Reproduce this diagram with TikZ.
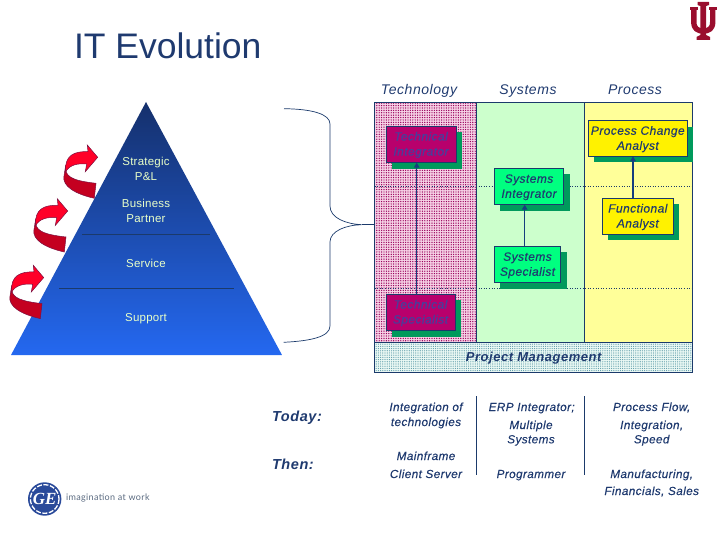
\documentclass[tikz,border=0pt]{standalone}
\usepackage{fontspec}
\setmainfont{Liberation Sans}
\usetikzlibrary{shadows,patterns.meta,arrows.meta}
\newfontfamily\lsfont[LetterSpace=3.5,FakeBold=0.3]{Liberation Sans}
\newfontfamily\lshead[LetterSpace=4]{Liberation Sans}
\newfontfamily\lssmall[LetterSpace=2]{Liberation Sans}
\newfontfamily\lslogo[LetterSpace=4]{Lato}
\newcommand{\tp}{\rule{0pt}{10pt}}
\definecolor{navy}{HTML}{1F3A6F}
\definecolor{linenavy}{HTML}{1B3A6B}
\definecolor{arrownavy}{HTML}{153E7E}
\definecolor{shadowgreen}{HTML}{009A5C}
\definecolor{crim}{HTML}{9A0E2E}
\definecolor{techfill}{HTML}{B8006C}
\definecolor{techtext}{HTML}{46409C}
\definecolor{sysfill}{HTML}{00FF80}
\definecolor{pyrtext}{HTML}{E8FFC8}
\definecolor{ribbondark}{HTML}{C40020}
\definecolor{ribbonred}{HTML}{FF0028}
\definecolor{ribbonedge}{HTML}{7A1040}
\definecolor{pyrtop}{HTML}{15306C}
\definecolor{pyrmid}{HTML}{1F50B4}
\definecolor{pyrbot}{HTML}{2468F0}
\definecolor{techbase}{HTML}{F6D2E6}
\definecolor{techdot}{HTML}{98005A}
\definecolor{sysbase}{HTML}{CCFFCC}
\definecolor{procbase}{HTML}{FFFF99}
\definecolor{pmbase}{HTML}{EAF8F4}
\definecolor{pmdot}{HTML}{5A9AA8}
\definecolor{gefill}{HTML}{2A4A9A}
\definecolor{gegray}{HTML}{5A6A80}
\tikzset{
  every node/.style={inner sep=0pt,outer sep=0pt},
  band/.style={draw=linenavy,line width=0.7pt,minimum height=#1},
  role/.style={draw=linenavy,line width=0.7pt,align=center,text=navy,
    font={\lsfont\itshape\fontsize{12}{15}\selectfont},
    copy shadow={shadow xshift=6pt,shadow yshift=-6pt,fill=shadowgreen,draw=none}},
  techrole/.style={role,fill=techfill,text=techtext},
  sysrole/.style={role,fill=sysfill},
  procrole/.style={role,fill=yellow},
  head/.style={text=navy,font={\lshead\itshape\fontsize{14}{16}\selectfont},text height=11.5pt,text depth=1.5pt},
  note/.style={text=navy,align=center,font={\lsfont\itshape\fontsize{11.7}{15}\selectfont},text height=10pt,text depth=2pt},
  big/.style={text=navy,anchor=west,font={\lshead\itshape\bfseries\fontsize{14.5}{16}\selectfont},text height=11.5pt,text depth=1.5pt},
  pyr/.style={text=pyrtext,align=center,font={\lssmall\fontsize{11.5}{15}\selectfont},text height=10.5pt,text depth=1.5pt},
  climb/.style={arrownavy,line width=1.5pt,-{Triangle[length=5pt,width=5.5pt]}},
  ribbon/.style={fill=ribbondark,draw=ribbonedge,line width=0.5pt},
  ribbontop/.style={fill=ribbonred,draw=ribbonedge,line width=0.5pt},
}
\newcommand{\curlarrow}[2]{%
  \begin{scope}[shift={(#1,#2)}]
    \path[ribbon] (65.7,170) .. controls (67,178) and (76,181) .. (96,183.3)
      -- (94.3,198.3) .. controls (75,194) and (62,186) .. (64,176) -- (65.7,165) -- cycle;
    \path[ribbontop] (65.7,172) .. controls (64,155) and (75,151) .. (88,151.7)
      -- (87.3,145) -- (97.7,157.3) -- (85.3,171.7) -- (86.7,164)
      .. controls (78,163) and (69,165) .. (65.7,172) -- cycle;
  \end{scope}}
\begin{document}
\begin{tikzpicture}[x=1pt,y=-1pt]
\useasboundingbox (0,0) rectangle (720,540);
% title
\node[anchor=base west,text=navy,font=\fontsize{35.5}{40}\selectfont] (title) at (74,59) {IT Evolution};
% pyramid
\shade[top color=pyrtop,middle color=pyrmid,bottom color=pyrbot] (146,102) -- (282,355) -- (11,355) -- cycle;
\coordinate (l1a) at (82,234.3); \coordinate (l1b) at (210,234.3);
\coordinate (l2a) at (59,288.3); \coordinate (l2b) at (234,288.3);
\draw[linenavy,line width=0.5pt] (l1a) -- (l1b);
\draw[linenavy,line width=0.5pt] (l2a) -- (l2b);
\node[pyr] (p1) at (146,161) {Strategic};
\node[pyr] (p2) at (146,176) {P\&L};
\node[pyr] (p3) at (146,203) {Business};
\node[pyr] (p4) at (146,218) {Partner};
\node[pyr] (p5) at (146,263) {Service};
\node[pyr] (p6) at (146,317) {Support};
% curled arrows
\curlarrow{0}{0}
\curlarrow{-30}{53.7}
\curlarrow{-54}{120.3}
% brace
\coordinate (bt) at (284,108.7);
\coordinate (bb) at (283.7,342.3);
\coordinate (tip) at (361.7,224.7);
\draw[linenavy,line width=0.7pt] (bt) .. controls (312,109) and (330,114) .. (330,124)
  -- (330,206) .. controls (330,218) and (346,224) .. (tip)
  .. controls (346,225) and (330,231) .. (330,242)
  -- (330,326) .. controls (330,337) and (310,341) .. (bb);
% columns
\node[band=239.6pt,minimum width=102.2pt,preaction={fill=techbase},pattern={Dots[distance=2.4pt,radius=.7pt]},pattern color=techdot] (colT) at (425.6,222.5) {};
\node[band=239.6pt,minimum width=107.8pt,fill=sysbase] (colS) at (530.6,222.5) {};
\node[band=239.6pt,minimum width=107.5pt,fill=procbase] (colP) at (638.25,222.5) {};
\node[band=30.3pt,minimum width=317.5pt,preaction={fill=pmbase},pattern={Dots[distance=2.2pt,radius=.6pt]},pattern color=pmdot] (pm) at (533.25,357.15) {};
\node[text=navy,font={\lshead\itshape\bfseries\fontsize{13}{15}\selectfont}] (pmt) at (533.7,358.3) {Project Management};
\draw[linenavy,line width=1.2pt] (tip) -- (colT.west |- tip);
\draw[linenavy,line width=0.6pt,dotted] (colT.west |- 0,186.7) -- (colP.east |- 0,186.7);
\draw[linenavy,line width=0.6pt,dotted] (colT.west |- 0,288.7) -- (colP.east |- 0,288.7);
% heads
\node[head] (hT) at (419,90) {Technology};
\node[head] (hS) at (528,90) {Systems};
\node[head] (hP) at (635,90) {Process};
% roles
\node[techrole,minimum width=70pt,minimum height=36.7pt] (ti) at (421,144.3) {\tp Technical\\Integrator};
\node[techrole,minimum width=69pt,minimum height=36.7pt] (ts) at (420.5,312.3) {\tp Technical\\Specialist};
\node[sysrole,minimum width=69.4pt,minimum height=36.4pt] (si) at (529,186.5) {\tp Systems\\Integrator};
\node[sysrole,minimum width=66.4pt,minimum height=36.4pt] (ss) at (527.5,264.5) {\tp Systems\\Specialist};
\node[procrole,minimum width=99pt,minimum height=35.6pt] (pc) at (637.8,138.5) {\tp Process Change\\Analyst};
\node[procrole,minimum width=71pt,minimum height=36pt] (fa) at (637.8,216.3) {\tp Functional\\Analyst};
\draw[climb] ([xshift=-3.8pt]ts.north) -- ([xshift=-4.3pt]ti.south);
\draw[climb] ([xshift=-2.8pt]ss.north) -- ([xshift=-4.3pt]si.south);
\draw[climb] ([xshift=-4.8pt]fa.north) -- ([xshift=-4.8pt]pc.south);
% lower table
\node[big] (today) at (272,416) {Today:};
\node[big] (then) at (272,464) {Then:};
\coordinate (v1a) at (476.3,396); \coordinate (v1b) at (476.3,475);
\coordinate (v2a) at (584.3,396); \coordinate (v2b) at (584.3,475);
\draw[linenavy,line width=0.7pt] (v1a) -- (v1b);
\draw[linenavy,line width=0.7pt] (v2a) -- (v2b);
\node[note] (n1) at (426,407) {Integration of};
\node[note] (n2) at (426,422) {technologies};
\node[note] (n3) at (426,456) {Mainframe};
\node[note] (n4) at (426,474) {Client Server};
\node[note] (n5) at (531.7,407) {ERP Integrator;};
\node[note] (n6) at (531,425) {Multiple};
\node[note] (n7) at (531,439.3) {Systems};
\node[note] (n8) at (531,474) {Programmer};
\node[note] (n9) at (651.7,407) {Process Flow,};
\node[note] (n10) at (651.7,425) {Integration,};
\node[note] (n11) at (651.7,439.3) {Speed};
\node[note] (n12) at (651.7,474) {Manufacturing,};
\node[note] (n13) at (651.7,491) {Financials, Sales};
% GE logo
\node[circle,fill=gefill,minimum size=33.4pt] (ge) at (44.7,499) {};
\draw[white,line width=1.3pt,dash pattern=on 5pt off 1.6pt] (ge.center) circle[radius=14.3];
\node[text=white,font={\fontspec{Liberation Serif}\itshape\bfseries\fontsize{17}{17}\selectfont}] (get) at (44.7,499) {GE};
\node[anchor=west,text=gegray,font={\lslogo\fontsize{9}{10}\selectfont}] (geline) at (66,498.5) {imagination at work};
% IU trident
\draw[crim,line width=5.4pt,line join=round] (693.8,9) -- (693.8,22) .. controls (693.8,29) and (698,31) .. (703.2,31)
  .. controls (708.5,31) and (712.7,29) .. (712.7,22) -- (712.7,9);
\fill[crim] (697.5,2) -- (709,2) -- (709,5) -- (706.2,6) -- (706.2,35) -- (710,37) -- (710,40) -- (696.5,40) -- (696.5,37) -- (700.4,35) -- (700.4,6) -- (697.5,5) -- cycle;
\fill[crim] (690,7.5) rectangle (698,10.5);
\fill[crim] (708.5,7.5) rectangle (716.5,10.5);
\end{tikzpicture}
\end{document}
